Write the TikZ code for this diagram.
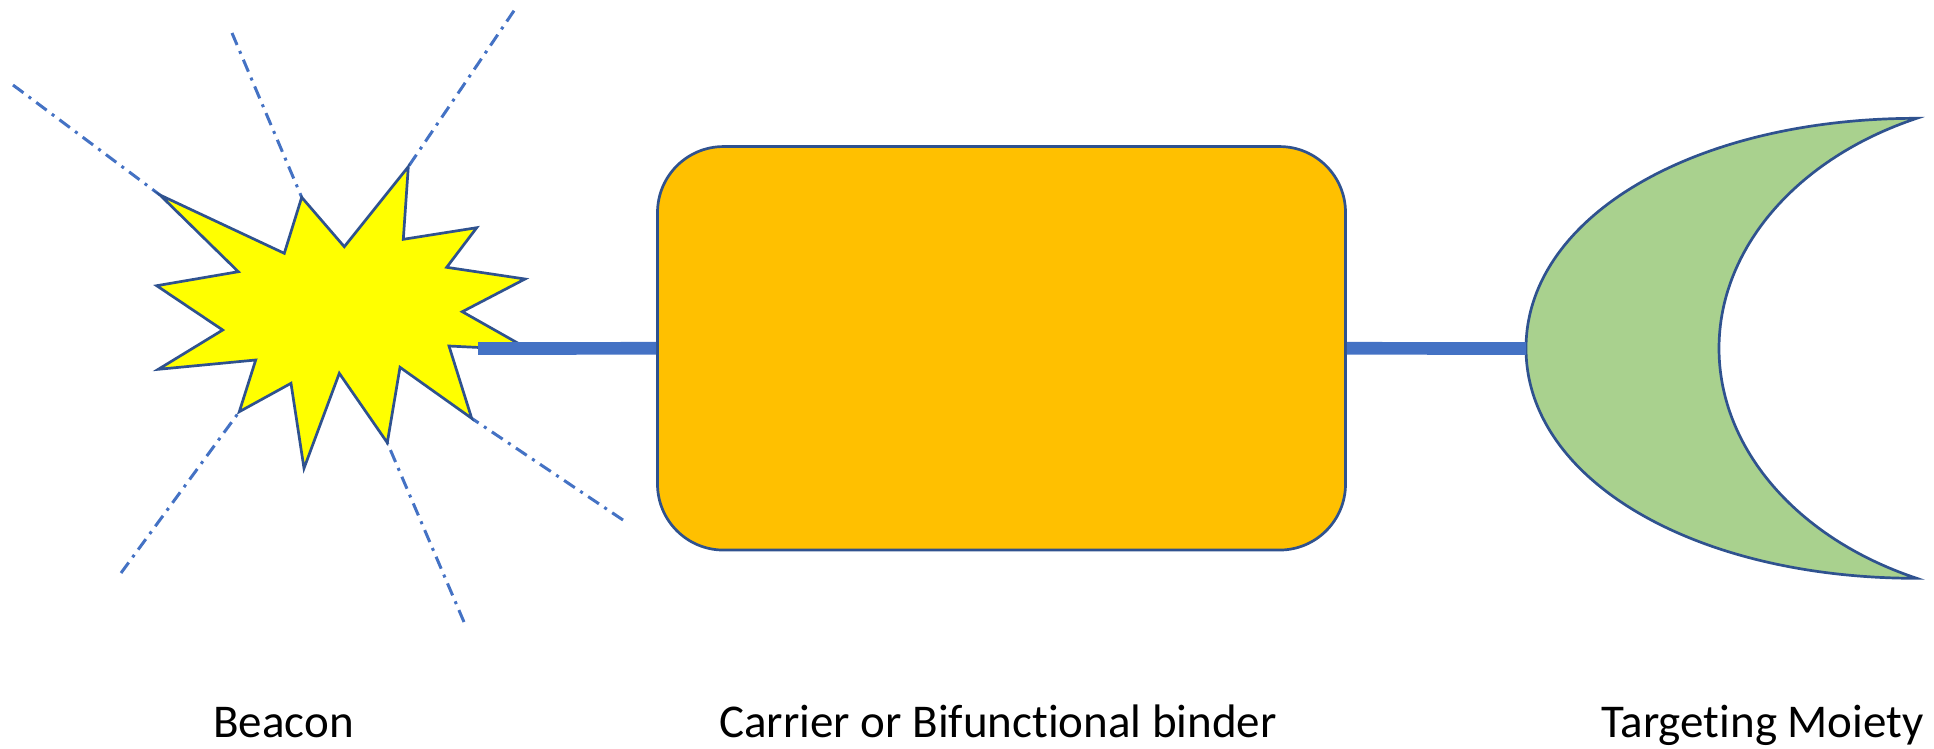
\documentclass[tikz,border=0pt]{standalone}
\usepackage{fontspec}
\setmainfont{Carlito}[Ligatures=NoCommon]
\definecolor{officeblue}{HTML}{4472C4}
\definecolor{edgeblue}{HTML}{2F528F}
\definecolor{boxorange}{HTML}{FFC000}
\definecolor{moongreen}{HTML}{A9D18E}
\definecolor{staryellow}{HTML}{FFFF00}
\begin{document}
\begin{tikzpicture}[x=1pt,y=-1pt,
  ray/.style={draw=officeblue, line width=3pt, dash pattern=on 13pt off 6.5pt on 3pt off 6.5pt},
  outline/.style={draw=edgeblue, line width=2.7pt, line join=miter},
  link/.style={draw=officeblue, line width=12.7pt},
  carrierbox/.style={outline, fill=boxorange, rounded corners=66pt, minimum width=688pt, minimum height=403.5pt, inner sep=0pt},
  caption/.style={font=\fontsize{47}{56}\selectfont, anchor=base, inner sep=0pt, text=black}
]
\useasboundingbox (0,0) rectangle (1934,748);
% star tips
\coordinate (t1) at (160,195);
\coordinate (t3) at (301.7,197.3);
\coordinate (t5) at (408.3,166.7);
\coordinate (t13) at (471.7,418.3);
\coordinate (t15) at (387.3,442.7);
\coordinate (t19) at (239.3,411.7);
% ray ends
\coordinate (rA) at (13,85);
\coordinate (rB) at (232,33);
\coordinate (rC) at (514,10.7);
\coordinate (rD) at (121,573);
\coordinate (rE) at (464,622);
\coordinate (rF) at (623,520);
\draw[ray] (rA) -- (t1);
\draw[ray] (rB) -- (t3);
\draw[ray] (rC) -- (t5);
\draw[ray] (rD) -- (t19);
\draw[ray] (rE) -- (t15);
\draw[ray] (rF) -- (t13);
% beacon star
\path[outline, fill=staryellow] (t1) -- (284.3,253.3) -- (t3) -- (344.3,246.7) -- (t5) -- (403.3,239.3)
  -- (476.7,227.7) -- (446.7,267.3) -- (525,279) -- (462.3,311.7) -- (530,350) -- (449,346)
  -- (t13) -- (400,367.3) -- (t15) -- (339.3,373.3) -- (304,468.3) -- (291,383.3)
  -- (t19) -- (255.7,360) -- (158.3,369.3) -- (222.7,330) -- (156.7,285.7) -- (238.3,271.7) -- cycle;
\coordinate (beacon) at (478,348.5);
% carrier
\node[carrierbox] (carrier) at (1001.5,348.3) {};
% targeting moiety (crescent)
\path[outline, fill=moongreen] (1916.7,118.3) .. controls (1694,118.3) and (1526,217) .. (1526,348.3)
  .. controls (1526,479.6) and (1694,578.3) .. (1916.7,578.3)
  .. controls (1796.5,538.2) and (1719,448) .. (1719,348.3)
  .. controls (1719,248.6) and (1796.5,158.4) .. (1916.7,118.3) -- cycle;
\coordinate (moiety) at (1526,348.5);
% connectors
\draw[link] (beacon) -- (carrier.west);
\draw[link] (carrier.east) -- (moiety);
% labels
\node[caption] (lbeacon) at (283.5,737) {Beacon};
\node[caption] (lcarrier) at (998,737) {Carrier or Bifunctional binder};
\node[caption] (lmoiety) at (1762.5,737) {Targeting Moiety};
\end{tikzpicture}
\end{document}
